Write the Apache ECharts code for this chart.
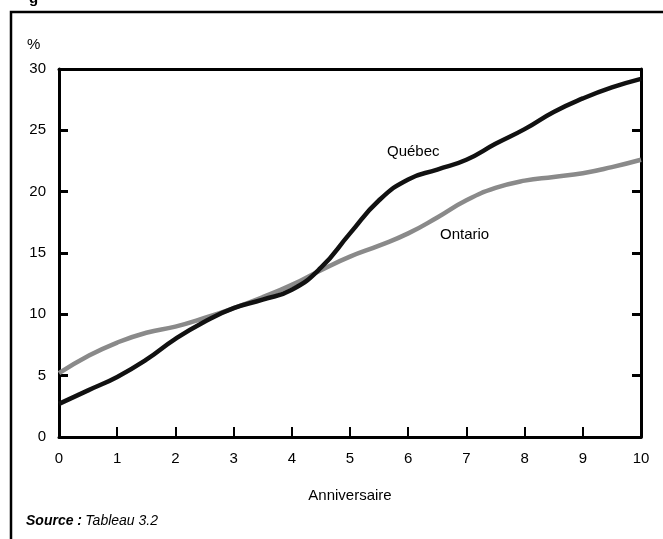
<!DOCTYPE html>
<html>
<head>
<meta charset="utf-8">
<script src="https://cdn.jsdelivr.net/npm/echarts@6/dist/echarts.min.js"></script>
<style>html,body{margin:0;padding:0;background:#fff}#c{width:663px;height:539px}</style>
</head>
<body>
<div id="c"></div>
<script>
var years = [0,0.5,1,1.5,2,2.5,3,3.5,4,4.5,5,5.5,6,6.5,7,7.5,8,8.5,9,9.5,10];
var quebec = [2.7,3.8,4.9,6.3,8.0,9.4,10.5,11.2,12.0,13.8,16.6,19.3,21.0,21.8,22.6,23.9,25.1,26.5,27.6,28.5,29.2];
var ontario = [5.2,6.6,7.7,8.5,9.0,9.7,10.5,11.4,12.4,13.6,14.7,15.6,16.6,17.9,19.3,20.3,20.9,21.2,21.5,22.0,22.6];

function pairs(xs, ys){ return xs.map(function(x,i){ return [x, ys[i]]; }); }
var FONT = 'Liberation Sans, Arial, sans-serif';
var chart = echarts.init(document.getElementById('c'), null, {renderer:'canvas'});
chart.setOption({
  animation:false,
  backgroundColor:'#fff',
  grid:{left:59, top:69, width:582, height:368, show:false},
  xAxis:[{
    type:'value', min:0, max:10, interval:1, position:'bottom',
    axisLine:{onZero:false, lineStyle:{color:'#000', width:3}},
    axisTick:{inside:true, length:10, lineStyle:{color:'#000', width:2}},
    axisLabel:{color:'#000', fontFamily:FONT, fontSize:15, margin:14},
    splitLine:{show:false},
    name:'Anniversaire', nameLocation:'middle', nameGap:51,
    nameTextStyle:{color:'#000', fontFamily:FONT, fontSize:15}
  },{
    type:'value', min:0, max:10, interval:1, position:'top',
    axisLine:{show:true, onZero:false, lineStyle:{color:'#000', width:3}},
    axisTick:{show:false}, axisLabel:{show:false}, splitLine:{show:false}
  }],
  yAxis:[{
    type:'value', min:0, max:30, interval:5, position:'left',
    axisLine:{show:true, onZero:false, lineStyle:{color:'#000', width:3}},
    axisTick:{show:true, inside:true, length:9, lineStyle:{color:'#000', width:3}},
    axisLabel:{color:'#000', fontFamily:FONT, fontSize:15, margin:13},
    splitLine:{show:false}
  },{
    type:'value', min:0, max:30, interval:5, position:'right',
    axisLine:{show:true, onZero:false, lineStyle:{color:'#000', width:3}},
    axisTick:{show:true, inside:true, length:9, lineStyle:{color:'#000', width:3}},
    axisLabel:{show:false}, splitLine:{show:false}
  }],
  series:[{
    name:'Ontario', type:'line', smooth:0.5, showSymbol:false,
    data:pairs(years, ontario),
    lineStyle:{color:'#8a8a8a', width:4.5}, z:2
  },{
    name:'Québec', type:'line', smooth:0.5, showSymbol:false,
    data:pairs(years, quebec),
    lineStyle:{color:'#111', width:4.5}, z:3
  }],
  graphic:[
    {type:'rect', shape:{x:11, y:12, width:700, height:600}, style:{fill:'none', stroke:'#000', lineWidth:2.5}, silent:true},
    {type:'text', x:29, y:6, style:{text:'g', font:'bold 15px '+FONT, fill:'#000', verticalAlign:'bottom'}},
    {type:'text', x:27, y:37, style:{text:'%', font:'15px '+FONT, fill:'#000'}},
    {type:'text', x:387, y:144, style:{text:'Québec', font:'15px '+FONT, fill:'#000'}},
    {type:'text', x:440, y:227, style:{text:'Ontario', font:'15px '+FONT, fill:'#000'}},
    {type:'text', x:26, y:514, style:{rich:{b:{font:'italic bold 14px '+FONT, fill:'#000'}, i:{font:'italic 14px '+FONT, fill:'#000'}}, text:'{b|Source :} {i|Tableau 3.2}'}}
  ]
});
</script>
</body>
</html>
